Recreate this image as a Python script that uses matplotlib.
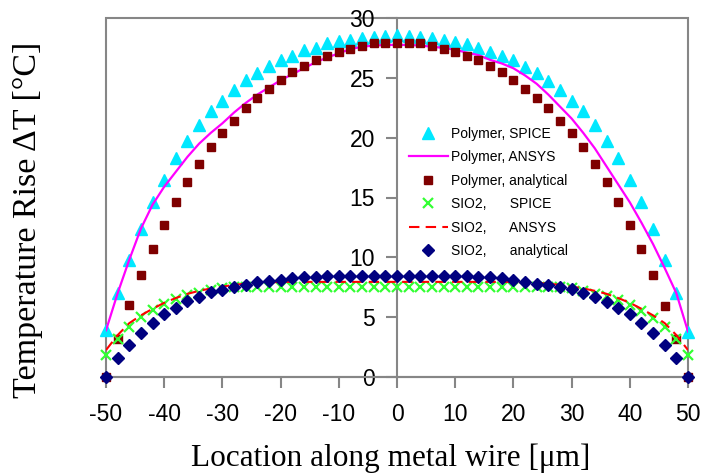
import matplotlib
matplotlib.use("Agg")
import matplotlib.pyplot as plt
from matplotlib.patches import Rectangle

# location along wire [um]
x = list(range(-50, 51, 2))

polymer_spice = [3.9, 7.0, 9.8, 12.4, 14.6, 16.5, 18.3, 19.7, 21.1, 22.2, 23.1, 24.0, 24.8,
                 25.4, 26.0, 26.5, 26.8, 27.3, 27.5, 27.9, 28.1, 28.2, 28.3, 28.4, 28.5, 28.6,
                 28.5, 28.4, 28.3, 28.15, 28.0, 27.8, 27.5, 27.2, 26.8, 26.5, 25.9, 25.4, 24.75,
                 24.0, 23.1, 22.2, 21.1, 19.7, 18.3, 16.5, 14.6, 12.4, 9.8, 7.0, 3.8]
polymer_ansys = [3.9, 7.0, 9.8, 12.4, 14.4, 15.9, 17.15, 18.4, 19.5, 20.4, 21.2, 22.1, 22.9,
                 23.6, 24.2, 24.8, 25.3, 25.8, 26.3, 26.7, 27.05, 27.4, 27.6, 27.7, 27.75, 27.75,
                 27.75, 27.7, 27.6, 27.5, 27.35, 27.1, 26.9, 26.5, 26.2, 25.8, 25.2, 24.5, 23.6,
                 22.6, 21.6, 20.4, 19.1, 17.6, 16.1, 14.6, 12.9, 11.1, 9.1, 7.0, 3.8]
polymer_analytical = [0.0, 3.2, 6.0, 8.5, 10.7, 12.7, 14.6, 16.3, 17.8, 19.2, 20.35, 21.4, 22.5,
                      23.3, 24.1, 24.8, 25.5, 26.0, 26.5, 26.85, 27.2, 27.45, 27.7, 27.9, 27.95, 27.95,
                      27.95, 27.9, 27.7, 27.4, 27.2, 26.8, 26.5, 26.0, 25.5, 24.8, 24.1, 23.3, 22.5,
                      21.4, 20.35, 19.2, 17.8, 16.3, 14.6, 12.7, 10.7, 8.5, 5.95, 3.2, 0.0]
sio2_spice = [1.8, 3.15, 4.2, 5.0, 5.6, 6.1, 6.5, 6.85, 7.05, 7.25, 7.4, 7.5, 7.55,
              7.55, 7.55, 7.55, 7.55, 7.55, 7.55, 7.55, 7.55, 7.55, 7.55, 7.55, 7.55, 7.55,
              7.55, 7.55, 7.55, 7.55, 7.55, 7.55, 7.55, 7.55, 7.55, 7.55, 7.55, 7.55, 7.55,
              7.5, 7.4, 7.2, 6.95, 6.75, 6.4, 6.0, 5.5, 4.9, 4.2, 3.15, 1.8]
sio2_ansys = [2.25, 3.5, 4.5, 5.15, 5.7, 6.2, 6.6, 6.95, 7.2, 7.4, 7.55, 7.7, 7.8,
              7.85, 7.9, 7.95, 7.95, 7.95, 7.95, 7.95, 7.95, 7.95, 7.95, 7.95, 7.95, 7.95,
              7.95, 7.95, 7.95, 7.95, 7.95, 7.95, 7.95, 7.95, 7.95, 7.95, 7.9, 7.85, 7.8,
              7.7, 7.55, 7.4, 7.2, 6.95, 6.6, 6.2, 5.7, 5.15, 4.5, 3.5, 2.25]
sio2_analytical = [0.0, 1.56, 2.67, 3.7, 4.54, 5.3, 5.8, 6.35, 6.7, 7.07, 7.3, 7.55, 7.7,
                   7.9, 8.05, 8.1, 8.25, 8.33, 8.33, 8.44, 8.45, 8.45, 8.45, 8.45, 8.45, 8.45,
                   8.45, 8.45, 8.45, 8.45, 8.45, 8.45, 8.33, 8.33, 8.25, 8.1, 7.96, 7.8, 7.7,
                   7.55, 7.33, 7.05, 6.65, 6.3, 5.8, 5.26, 4.54, 3.7, 2.67, 1.56, 0.0]

labels = ["Polymer, SPICE", "Polymer, ANSYS", "Polymer, analytical",
          "SIO2,      SPICE", "SIO2,      ANSYS", "SIO2,      analytical"]

gray = "#868686"
plt.rcParams["font.family"] = "Liberation Sans"
plt.rcParams["axes.unicode_minus"] = False

fig = plt.figure(figsize=(7.09, 4.76), dpi=100)
ax = fig.add_axes([106 / 709, 99 / 476, 582 / 709, 359 / 476])

ax.plot(x, polymer_spice, ls="none", marker="^", ms=8.5, color="#00E8FF", clip_on=False,
        label=labels[0], zorder=3)
ax.plot(x, polymer_ansys, color="#FF00FF", lw=1.6, label=labels[1], zorder=3)
ax.plot(x, polymer_analytical, ls="none", marker="s", ms=5.5, color="#7F0000", clip_on=False,
        label=labels[2], zorder=3)
ax.plot(x, sio2_spice, ls="none", marker="x", ms=6.5, mew=1.6, color="#33FF33", clip_on=False,
        label=labels[3], zorder=3)
ax.plot(x, sio2_ansys, color="#FF0000", lw=1.5, dashes=(5, 3), label=labels[4], zorder=3)
ax.plot(x, sio2_analytical, ls="none", marker="D", ms=6, color="#000080", clip_on=False,
        label=labels[5], zorder=4)

ax.set_xlim(-50, 50)
ax.set_ylim(0, 30)
ax.set_xticks(range(-50, 51, 10))
ax.set_yticks(range(0, 31, 5))

# Excel style: y axis crosses at x = 0, grey frame around plot area
for side in ["top", "right"]:
    ax.spines[side].set_visible(False)
ax.spines["left"].set_position(("data", 0))
ax.spines["left"].set_color(gray)
ax.spines["bottom"].set_color(gray)
ax.spines["left"].set_linewidth(1.5)
ax.spines["bottom"].set_linewidth(1.5)
ax.add_patch(Rectangle((0, 0), 1, 1, transform=ax.transAxes, fill=False,
                       edgecolor=gray, lw=1.5, clip_on=False, zorder=0))

ax.tick_params(axis="x", direction="out", length=8, width=1.5, color=gray, pad=11,
               labelsize=16.5)
ax.tick_params(axis="y", direction="out", length=8, width=1.5, color=gray, pad=8,
               labelsize=16.5)

ax.legend(loc="upper left", bbox_to_anchor=(0.5206, 0.697), frameon=False, fontsize=10,
          handlelength=2.8, handletextpad=0.2, labelspacing=0.68, borderpad=0,
          borderaxespad=0)

fig.text(391 / 709, 1 - 458 / 476, "Location along metal wire [\u03bcm]", ha="center",
         va="center", fontsize=22.5, family="Liberation Serif")
fig.text(28 / 709, 1 - 220 / 476, "Temperature Rise \u0394T [\u00b0C]", ha="center",
         va="center", rotation=90, fontsize=24.5, family="Liberation Serif")

plt.savefig("out.png", dpi=100)
plt.close()
